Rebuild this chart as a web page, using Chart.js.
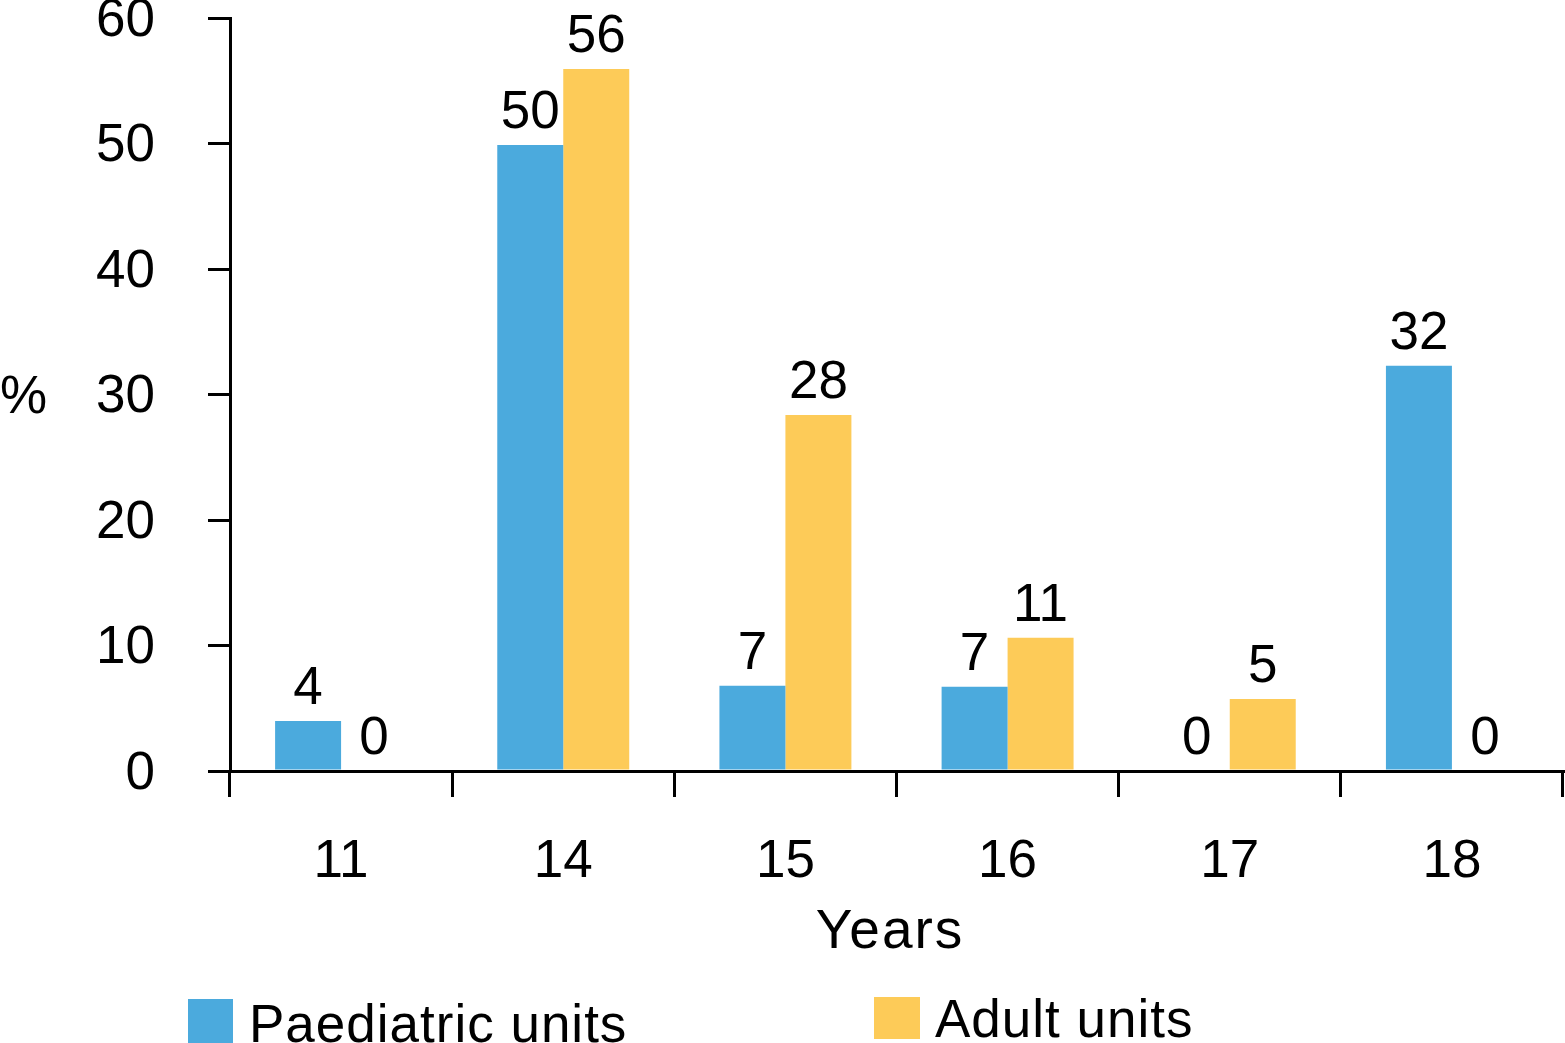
<!DOCTYPE html>
<html>
<head>
<meta charset="utf-8">
<script src="https://cdn.jsdelivr.net/npm/chart.js@4"></script>
<style>
  html, body { margin: 0; padding: 0; background: #ffffff; }
  #wrap { width: 1565px; height: 1043px; position: relative; }
</style>
</head>
<body>
<div id="wrap"><canvas id="c" width="1565" height="1043"></canvas></div>
<script>
// ---- data ----
const categories = ['11', '14', '15', '16', '17', '18'];
const seriesNames = ['Paediatric units', 'Adult units'];
const paediatricValues = [3.98, 49.88, 6.8, 6.72, 0, 32.3];
const adultValues = [0, 55.94, 28.37, 10.62, 5.74, 0];
const paediatricLabels = ['4', '50', '7', '7', '0', '32'];
const adultLabels = ['0', '56', '28', '11', '5', '0'];
const yTicks = [0, 10, 20, 30, 40, 50, 60];
const xTitle = 'Years';
const yTitle = '%';

// ---- style ----
const FONT = "'Liberation Sans', Arial, Helvetica, sans-serif";
const FS = 53;
const BLUE = '#4BAADD';
const YELLOW = '#FDCB58';
const seriesLabels = [paediatricLabels, adultLabels];

const extrasPlugin = {
  id: 'extras',
  afterDatasetsDraw(chart) {
    const ctx = chart.ctx;
    ctx.save();
    ctx.fillStyle = '#000';
    ctx.font = FS + 'px ' + FONT;
    ctx.textAlign = 'center';
    ctx.textBaseline = 'alphabetic';
    chart.data.datasets.forEach((ds, di) => {
      const meta = chart.getDatasetMeta(di);
      meta.data.forEach((el, i) => {
        ctx.fillText(seriesLabels[di][i], el.x, el.y - 17);
      });
    });
    // axis titles
    ctx.save();
    ctx.font = '55px ' + FONT;
    ctx.letterSpacing = '2px';
    ctx.fillText(xTitle, 890, 948);
    ctx.restore();
    ctx.textAlign = 'left';
    ctx.fillText(yTitle, 0, 413);
    // legend
    ctx.fillStyle = BLUE;
    ctx.fillRect(188, 999, 45, 45);
    ctx.fillStyle = YELLOW;
    ctx.fillRect(874, 997, 46, 42);
    ctx.fillStyle = '#000';
    ctx.letterSpacing = '1px';
    ctx.fillText(seriesNames[0], 249, 1042);
    ctx.fillText(seriesNames[1], 935, 1037);
    ctx.restore();
  }
};

new Chart(document.getElementById('c'), {
  type: 'bar',
  data: {
    labels: categories,
    datasets: [
      { label: seriesNames[0], data: paediatricValues, backgroundColor: BLUE, borderWidth: 0 },
      { label: seriesNames[1], data: adultValues, backgroundColor: YELLOW, borderWidth: 0 }
    ]
  },
  options: {
    responsive: false,
    animation: false,
    devicePixelRatio: 1,
    layout: { padding: { top: 18, right: 2, left: 0, bottom: 0 } },
    datasets: { bar: { categoryPercentage: 0.594, barPercentage: 1.0 } },
    plugins: { legend: { display: false }, tooltip: { enabled: false } },
    scales: {
      x: {
        offset: true,
        grid: { display: true, offset: true, drawOnChartArea: false, drawTicks: true, tickLength: 26, color: '#000', lineWidth: 3 },
        border: { display: true, color: '#000', width: 3 },
        ticks: { color: '#000', font: { family: FONT, size: FS, lineHeight: 1 }, padding: 39, maxRotation: 0 },
        afterFit(s) { s.height = 1043 - 771; s.paddingLeft = 0; s.paddingRight = 0; }
      },
      y: {
        min: 0, max: 60,
        afterBuildTicks(s) { s.ticks = yTicks.map(v => ({ value: v })); },
        grid: { display: true, drawOnChartArea: false, drawTicks: true, tickLength: 22, color: '#000', lineWidth: 3 },
        border: { display: true, color: '#000', width: 3 },
        ticks: { color: '#000', font: { family: FONT, size: FS, lineHeight: 0.6 }, padding: 53, labelOffset: 3 },
        afterFit(s) { s.width = 230; s.paddingTop = 0; s.paddingBottom = 0; }
      }
    }
  },
  plugins: [extrasPlugin]
});
</script>
</body>
</html>
